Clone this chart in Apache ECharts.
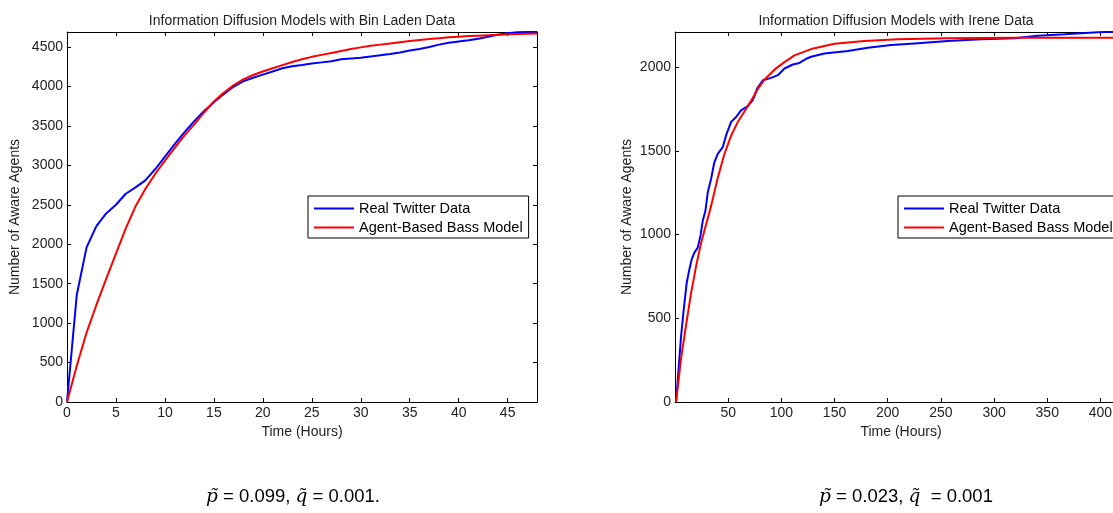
<!DOCTYPE html>
<html>
<head>
<meta charset="utf-8">
<script src="https://cdn.jsdelivr.net/npm/echarts@6/dist/echarts.min.js"></script>
<style>
    html, body { margin: 0; padding: 0; background: #fff; }
    #chart { width: 1113px; height: 513px; }
</style>
</head>
<body>
<div id="chart"></div>
<script>
// Bin Laden data, hourly
const hoursBinLaden = [0, 1, 2, 3, 4, 5, 6, 7, 8, 9, 10, 11, 12, 13, 14, 15, 16, 17, 18, 19, 20, 21, 22, 23, 24,
    25, 26, 27, 28, 29, 30, 31, 32, 33, 34, 35, 36, 37, 38, 39, 40, 41, 42, 43, 44, 45, 46, 47, 48];
const twitterBinLaden = [0, 1360, 1960, 2230, 2390, 2500, 2640, 2720, 2810, 2950, 3110, 3270, 3420, 3560, 3690,
    3800, 3900, 3995, 4065, 4110, 4150, 4190, 4230, 4255, 4272, 4290, 4305, 4320, 4345, 4355, 4365, 4380, 4395,
    4410, 4430, 4455, 4475, 4500, 4530, 4555, 4570, 4585, 4605, 4630, 4655, 4675, 4688, 4690, 4690];
const bassBinLaden = [0, 460, 880, 1230, 1560, 1880, 2200, 2480, 2700, 2890, 3060, 3220, 3380, 3520, 3670, 3810,
    3920, 4015, 4090, 4145, 4190, 4230, 4270, 4310, 4345, 4375, 4400, 4425, 4450, 4475, 4495, 4515, 4530, 4545,
    4560, 4575, 4590, 4600, 4612, 4622, 4630, 4638, 4644, 4650, 4656, 4661, 4665, 4668, 4670];

// Irene data
const hoursIreneTwitter = [1, 5.7, 8.2, 11, 13.5, 15.7, 18.2, 21.4, 23.9, 26.1, 28.6, 30.8, 33.9, 37, 40.2, 44.9,
    48, 52.7, 57.4, 62.1, 68.4, 73.1, 77.2, 82.6, 90.4, 96.7, 102.9, 110.8, 117, 124, 128, 140.5, 162.5, 181.3,
    203.3, 225.2, 256.6, 288, 319.3, 341.3, 366.3, 382, 397.7, 411.8, 425];
const twitterIrene = [0, 392, 552, 712, 792, 852, 892, 922, 992, 1082, 1142, 1252, 1332, 1432, 1482, 1522, 1592,
    1672, 1702, 1742, 1768, 1802, 1872, 1922, 1936, 1952, 1992, 2016, 2025, 2052, 2062, 2082, 2096, 2116, 2132,
    2142, 2156, 2166, 2172, 2188, 2196, 2202, 2208, 2212, 2215];
const hoursIreneBass = [1, 5.7, 10.4, 15.1, 19.8, 24.5, 29.2, 33.9, 40.2, 46.4, 52.7, 59, 65.3, 71.6, 77.9, 84.1,
    93.5, 102.9, 112.3, 128, 150, 178, 209.5, 256.6, 319.3, 425];
const bassIrene = [0, 260, 460, 650, 810, 950, 1060, 1170, 1340, 1480, 1590, 1672, 1735, 1800, 1870, 1925, 1985,
    2030, 2070, 2108, 2140, 2156, 2166, 2172, 2175, 2176];

const seriesNames = ["Real Twitter Data", "Agent-Based Bass Model"];
const titles = ["Information Diffusion Models with Bin Laden Data", "Information Diffusion Models with Irene Data"];
const captions = ["{i|p\u0303} = 0.099, {i|q\u0303} = 0.001.", "{i|p\u0303} = 0.023, {i|q\u0303}  = 0.001"];

const pairs = (xs, ys) => xs.map((x, i) => [x, ys[i]]);

const font = "Liberation Sans, Arial, sans-serif";
const textColor = "#222";
const plain = (v) => String(v);

function mainX(grid, max, interval) {
    return {
        gridIndex: grid,
        type: "value",
        min: 0,
        max: max,
        interval: interval,
        position: "bottom",
        name: "Time (Hours)",
        nameLocation: "middle",
        nameGap: 23,
        nameTextStyle: { fontSize: 14, color: textColor, fontFamily: font },
        axisLine: { show: true, onZero: false, lineStyle: { color: "#000", width: 1 } },
        axisTick: { show: true, inside: true, length: 4, lineStyle: { color: "#000" } },
        axisLabel: {
            show: true, showMinLabel: grid === 0, showMaxLabel: false, formatter: plain,
            fontSize: 14, color: textColor, fontFamily: font, margin: 4,
        },
        splitLine: { show: false },
    };
}
function mirrorX(grid, max, interval) {
    return {
        gridIndex: grid,
        type: "value",
        min: 0,
        max: max,
        interval: interval,
        position: "top",
        axisLine: { show: true, onZero: false, lineStyle: { color: "#000", width: 1 } },
        axisTick: { show: true, inside: true, length: 4, lineStyle: { color: "#000" } },
        axisLabel: { show: false },
        splitLine: { show: false },
    };
}
function mainY(grid, max, interval, gap) {
    return {
        gridIndex: grid,
        type: "value",
        min: 0,
        max: max,
        interval: interval,
        position: "left",
        name: "Number of Aware Agents",
        nameLocation: "middle",
        nameGap: gap,
        nameTextStyle: { fontSize: 14, color: textColor, fontFamily: font },
        axisLine: { show: true, onZero: false, lineStyle: { color: "#000", width: 1 } },
        axisTick: { show: true, inside: true, length: 4, lineStyle: { color: "#000" } },
        axisLabel: { showMaxLabel: false, formatter: plain, fontSize: 14, color: textColor, fontFamily: font, margin: 4 },
        splitLine: { show: false },
    };
}
function mirrorY(grid, max, interval) {
    return {
        gridIndex: grid,
        type: "value",
        min: 0,
        max: max,
        interval: interval,
        position: "right",
        axisLine: { show: true, onZero: false, lineStyle: { color: "#000", width: 1 } },
        axisTick: { show: true, inside: true, length: 4, lineStyle: { color: "#000" } },
        axisLabel: { show: false },
        splitLine: { show: false },
    };
}
function lineSeries(name, color, data, axis) {
    return {
        name: name,
        type: "line",
        xAxisIndex: axis,
        yAxisIndex: axis,
        data: data,
        showSymbol: false,
        symbol: "none",
        lineStyle: { color: color, width: 2 },
        itemStyle: { color: color },
    };
}
function legendAt(left) {
    return {
        data: seriesNames,
        orient: "vertical",
        left: left,
        top: 196,
        icon: "rect",
        itemWidth: 40,
        itemHeight: 2,
        itemGap: 4,
        padding: [5, 6, 3, 6],
        borderColor: "#000",
        borderWidth: 1,
        backgroundColor: "#fff",
        selectedMode: false,
        textStyle: { fontSize: 14.5, color: "#000", fontFamily: font },
    };
}

const chart = echarts.init(document.getElementById("chart"));
chart.setOption({
    animation: false,
    backgroundColor: "#fff",
    title: [
        { text: titles[0], left: 297, top: 9, textAlign: "center",
          textStyle: { fontSize: 14, fontWeight: "normal", color: textColor, fontFamily: font } },
        { text: titles[1], left: 891, top: 9, textAlign: "center",
          textStyle: { fontSize: 14, fontWeight: "normal", color: textColor, fontFamily: font } },
    ],
    grid: [
        { left: 67, top: 32, width: 470, height: 370, outerBoundsMode: "none" },
        { left: 675, top: 32, width: 452, height: 370, outerBoundsMode: "none" },
    ],
    xAxis: [mainX(0, 48, 5), mirrorX(0, 48, 5), mainX(1, 425, 50), mirrorX(1, 425, 50)],
    yAxis: [mainY(0, 4690, 500, 45), mirrorY(0, 4690, 500), mainY(1, 2210, 500, 41), mirrorY(1, 2210, 500)],
    legend: [legendAt(308), legendAt(898)],
    series: [
        lineSeries(seriesNames[0], "#0000ff", pairs(hoursBinLaden, twitterBinLaden), 0),
        lineSeries(seriesNames[1], "#ff0000", pairs(hoursBinLaden, bassBinLaden), 0),
        lineSeries(seriesNames[0], "#0000ff", pairs(hoursIreneTwitter, twitterIrene), 2),
        lineSeries(seriesNames[1], "#ff0000", pairs(hoursIreneBass, bassIrene), 2),
    ],
    graphic: captions.map((text, i) => ({
        type: "text",
        x: i === 0 ? 293 : 906,
        y: 497,
        style: {
            text: text,
            align: "center",
            verticalAlign: "middle",
            fontSize: 18.5,
            fontFamily: font,
            fill: "#000",
            rich: {
                i: { fontStyle: "italic", fontFamily: "DejaVu Serif", fontSize: 18.5, fill: "#000" },
            },
        },
    })),
});
</script>
</body>
</html>
